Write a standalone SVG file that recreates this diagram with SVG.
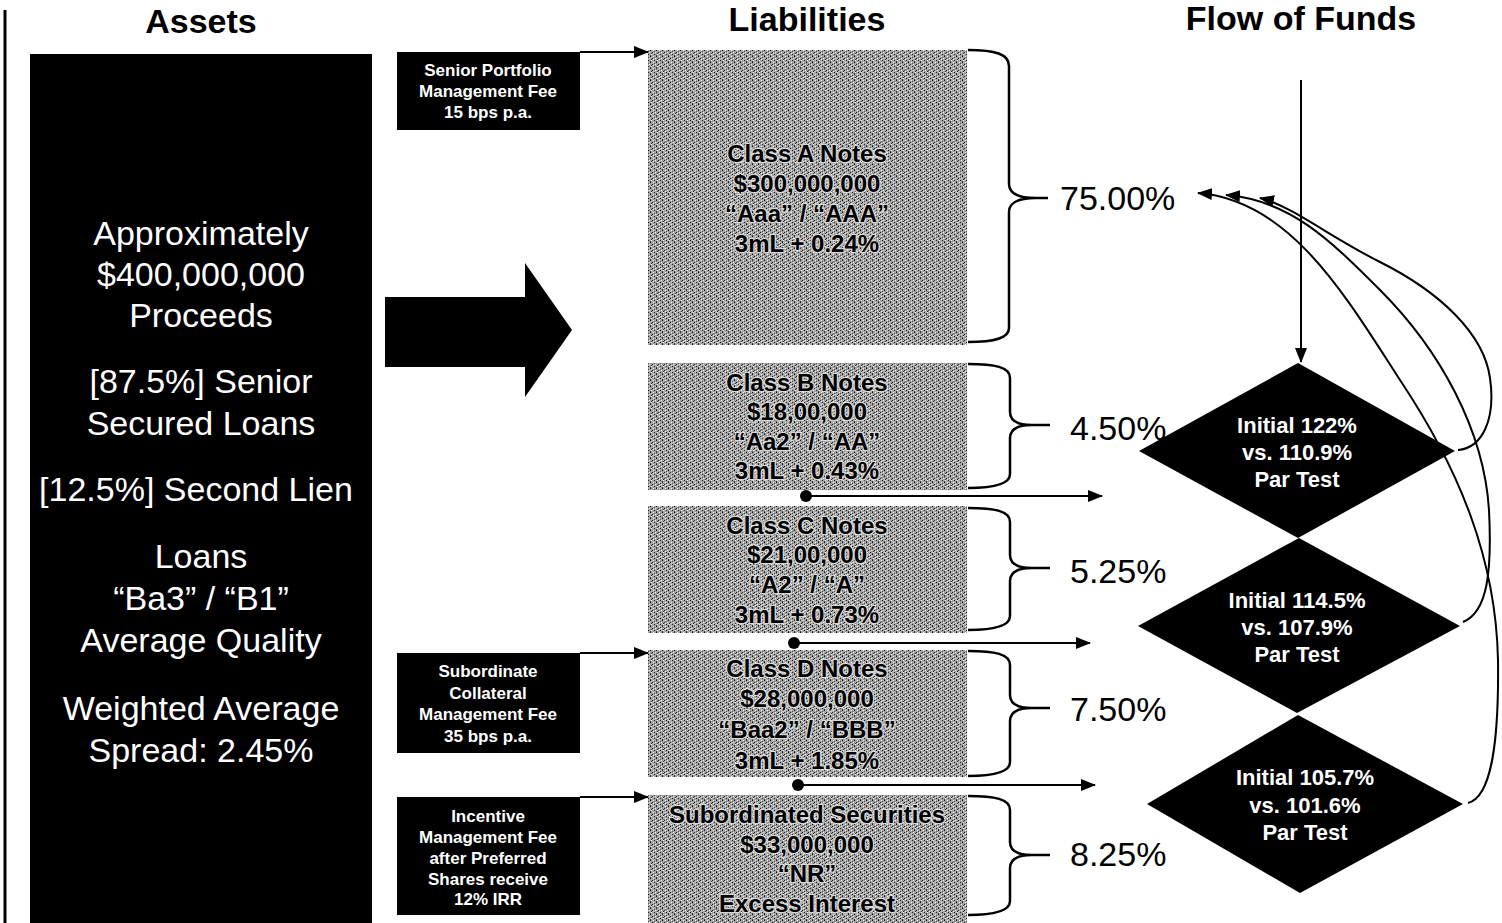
<svg xmlns="http://www.w3.org/2000/svg" width="1502" height="923" viewBox="0 0 1502 923">
  <style>
    .title { font-family: "Liberation Sans", Arial, sans-serif; font-weight: bold; font-size: 34px; fill: #000; text-anchor: middle; }
    .asset { font-family: "Liberation Sans", Arial, sans-serif; font-size: 34px; fill: #fff; text-anchor: middle; }
    .fee { font-family: "Liberation Sans", Arial, sans-serif; font-weight: bold; font-size: 17px; fill: #fff; text-anchor: middle; }
    .note { font-family: "Liberation Sans", Arial, sans-serif; font-weight: bold; font-size: 24px; fill: #000; text-anchor: middle; stroke: #d8d8d8; stroke-width: 2.5px; paint-order: stroke; stroke-linejoin: round; }
    .pct { font-family: "Liberation Sans", Arial, sans-serif; font-size: 34px; fill: #000; }
    .test { font-family: "Liberation Sans", Arial, sans-serif; font-weight: bold; font-size: 22px; fill: #fff; text-anchor: middle; }
    .box { fill: #000; }
    .tranche { fill: url(#halftone); }
    .brace { fill: none; stroke: #000; stroke-width: 2.5; }
    .wire { fill: none; stroke: #000; stroke-width: 2; }
  </style>
  <defs>
    <pattern id="halftone" width="6" height="6" patternUnits="userSpaceOnUse">
      <rect width="6" height="6" fill="#a4a4a4"/>
      <rect x="0" y="0" width="1" height="1" fill="#222"/>
      <rect x="3" y="0" width="1" height="1" fill="#fff"/>
      <rect x="2" y="1" width="1" height="1" fill="#444"/>
      <rect x="2" y="2" width="1" height="1" fill="#111"/>
      <rect x="5" y="2" width="1" height="1" fill="#fff"/>
      <rect x="1" y="4" width="1" height="1" fill="#eee"/>
      <rect x="4" y="4" width="1" height="1" fill="#222"/>
      <rect x="0" y="3" width="1" height="1" fill="#555"/>
      <rect x="3" y="5" width="1" height="1" fill="#333"/>
      <rect x="5" y="5" width="1" height="1" fill="#ddd"/>
    </pattern>
    <marker id="arrow" markerUnits="userSpaceOnUse" markerWidth="16" markerHeight="12" refX="14" refY="6" orient="auto">
      <path d="M0,0 L15,6 L0,12 z" fill="#000"/>
    </marker>
  </defs>

  <!-- page rule -->
  <line x1="5" y1="10" x2="5" y2="923" stroke="#000" stroke-width="3"/>

  <!-- column headings -->
  <text class="title" x="201" y="33">Assets</text>
  <text class="title" x="807" y="31">Liabilities</text>
  <text class="title" x="1301" y="30">Flow of Funds</text>

  <!-- asset pool -->
  <g id="assets">
    <rect class="box" x="30" y="54" width="342" height="869"/>
    <text class="asset" x="201" y="245">Approximately</text>
    <text class="asset" x="201" y="286">$400,000,000</text>
    <text class="asset" x="201" y="327">Proceeds</text>
    <text class="asset" x="201" y="393">[87.5%] Senior</text>
    <text class="asset" x="201" y="435">Secured Loans</text>
    <text class="asset" x="196" y="501">[12.5%] Second Lien</text>
    <text class="asset" x="201" y="568">Loans</text>
    <text class="asset" x="201" y="610">“Ba3” / “B1”</text>
    <text class="asset" x="201" y="652">Average Quality</text>
    <text class="asset" x="201" y="720">Weighted Average</text>
    <text class="asset" x="201" y="762">Spread: 2.45%</text>
  </g>

  <!-- proceeds arrow -->
  <g id="proceeds-arrow">
    <path d="M385,297 L525,297 L525,263 L572,330 L525,397 L525,367 L385,367 z" fill="#000"/>
  </g>

  <!-- management fees -->
  <g id="senior-fee">
    <rect class="box" x="397" y="52" width="183" height="78"/>
    <text class="fee" x="488" y="76">Senior Portfolio</text>
    <text class="fee" x="488" y="97">Management Fee</text>
    <text class="fee" x="488" y="118">15 bps p.a.</text>
  </g>
  <g id="subordinate-fee">
    <rect class="box" x="397" y="653" width="183" height="100"/>
    <text class="fee" x="488" y="677">Subordinate</text>
    <text class="fee" x="488" y="699">Collateral</text>
    <text class="fee" x="488" y="720">Management Fee</text>
    <text class="fee" x="488" y="742">35 bps p.a.</text>
  </g>
  <g id="incentive-fee">
    <rect class="box" x="397" y="797" width="183" height="118"/>
    <text class="fee" x="488" y="822">Incentive</text>
    <text class="fee" x="488" y="843">Management Fee</text>
    <text class="fee" x="488" y="864">after Preferred</text>
    <text class="fee" x="488" y="885">Shares receive</text>
    <text class="fee" x="488" y="905">12% IRR</text>
  </g>

  <!-- note tranches -->
  <g id="class-a">
    <rect class="tranche" x="648" y="50" width="319" height="295"/>
    <text class="note" x="807" y="162">Class A Notes</text>
    <text class="note" x="807" y="192">$300,000,000</text>
    <text class="note" x="807" y="222">“Aaa” / “AAA”</text>
    <text class="note" x="807" y="252">3mL + 0.24%</text>
    <path class="brace" d="M968,50 C995,50 1009,54 1009,66 L1009,184 C1009,194 1020,198 1036,198 L1048,198 M1036,198 C1020,198 1009,202 1009,212 L1009,328 C1009,338 995,342 968,342"/>
    <text class="pct" x="1060" y="210">75.00%</text>
  </g>
  <g id="class-b">
    <rect class="tranche" x="648" y="363" width="319" height="127"/>
    <text class="note" x="807" y="391">Class B Notes</text>
    <text class="note" x="807" y="420">$18,00,000</text>
    <text class="note" x="807" y="450">“Aa2” / “AA”</text>
    <text class="note" x="807" y="479">3mL + 0.43%</text>
    <path class="brace" d="M968,364 C995,364 1010,367 1010,378 L1010,412 C1010,421 1018,425 1032,425 L1050,425 M1032,425 C1018,425 1010,429 1010,438 L1010,474 C1010,484 995,488 968,488"/>
    <text class="pct" x="1070" y="440">4.50%</text>
  </g>
  <g id="class-c">
    <rect class="tranche" x="648" y="506" width="319" height="127"/>
    <text class="note" x="807" y="534">Class C Notes</text>
    <text class="note" x="807" y="563">$21,00,000</text>
    <text class="note" x="807" y="593">“A2” / “A”</text>
    <text class="note" x="807" y="623">3mL + 0.73%</text>
    <path class="brace" d="M968,508 C995,508 1010,511 1010,522 L1010,555 C1010,564 1018,568 1032,568 L1050,568 M1032,568 C1018,568 1010,572 1010,581 L1010,616 C1010,626 995,630 968,630"/>
    <text class="pct" x="1070" y="583">5.25%</text>
  </g>
  <g id="class-d">
    <rect class="tranche" x="648" y="650" width="319" height="127"/>
    <text class="note" x="807" y="677">Class D Notes</text>
    <text class="note" x="807" y="707">$28,000,000</text>
    <text class="note" x="807" y="738">“Baa2” / “BBB”</text>
    <text class="note" x="807" y="769">3mL + 1.85%</text>
    <path class="brace" d="M968,651 C995,651 1010,654 1010,665 L1010,695 C1010,704 1018,708 1032,708 L1050,708 M1032,708 C1018,708 1010,712 1010,721 L1010,762 C1010,772 995,776 968,776"/>
    <text class="pct" x="1070" y="721">7.50%</text>
  </g>
  <g id="subordinated">
    <rect class="tranche" x="648" y="795" width="319" height="128"/>
    <text class="note" x="807" y="823">Subordinated Securities</text>
    <text class="note" x="807" y="853">$33,000,000</text>
    <text class="note" x="807" y="882">“NR”</text>
    <text class="note" x="807" y="912">Excess Interest</text>
    <path class="brace" d="M968,796 C995,796 1010,799 1010,810 L1010,842 C1010,851 1018,855 1032,855 L1050,855 M1032,855 C1018,855 1010,859 1010,868 L1010,901 C1010,911 995,915 968,915"/>
    <text class="pct" x="1070" y="866">8.25%</text>
  </g>

  <!-- par value tests -->
  <g id="test-1">
    <path class="box" d="M1298,363 L1455,451 L1298,538 L1139,451 z"/>
    <text class="test" x="1297" y="433">Initial 122%</text>
    <text class="test" x="1297" y="460">vs. 110.9%</text>
    <text class="test" x="1297" y="487">Par Test</text>
  </g>
  <g id="test-2">
    <path class="box" d="M1299,538 L1460,626 L1297,713 L1138,626 z"/>
    <text class="test" x="1297" y="608">Initial 114.5%</text>
    <text class="test" x="1297" y="635">vs. 107.9%</text>
    <text class="test" x="1297" y="662">Par Test</text>
  </g>
  <g id="test-3">
    <path class="box" d="M1298,715 L1463,804 L1300,893 L1147,804 z"/>
    <text class="test" x="1305" y="785">Initial 105.7%</text>
    <text class="test" x="1305" y="813">vs. 101.6%</text>
    <text class="test" x="1305" y="840">Par Test</text>
  </g>

  <!-- connectors -->
  <g id="connectors">
    <line class="wire" x1="580" y1="52" x2="648" y2="52" marker-end="url(#arrow)"/>
    <line class="wire" x1="580" y1="653" x2="648" y2="653" marker-end="url(#arrow)"/>
    <line class="wire" x1="580" y1="797" x2="648" y2="797" marker-end="url(#arrow)"/>

    <circle cx="806" cy="496" r="6" fill="#000"/>
    <line class="wire" x1="806" y1="496" x2="1102" y2="496" marker-end="url(#arrow)"/>
    <circle cx="794" cy="643" r="6" fill="#000"/>
    <line class="wire" x1="794" y1="643" x2="1090" y2="643" marker-end="url(#arrow)"/>
    <circle cx="798" cy="785" r="6" fill="#000"/>
    <line class="wire" x1="798" y1="785" x2="1095" y2="785" marker-end="url(#arrow)"/>

    <line class="wire" x1="1301" y1="80" x2="1301" y2="362" marker-end="url(#arrow)"/>

    <path class="wire" d="M1458,450 C1482,448 1496,420 1490,378 C1484,334 1440,292 1380,262 C1330,237 1290,205 1260,198" marker-end="url(#arrow)"/>
    <path class="wire" d="M1463,622 C1488,612 1492,570 1489,510 C1484,430 1440,350 1380,290 C1330,240 1290,200 1226,195" marker-end="url(#arrow)"/>
    <path class="wire" d="M1468,803 C1492,797 1499,740 1498,660 C1496,560 1460,470 1400,380 C1345,295 1290,200 1198,193" marker-end="url(#arrow)"/>
  </g>
</svg>
